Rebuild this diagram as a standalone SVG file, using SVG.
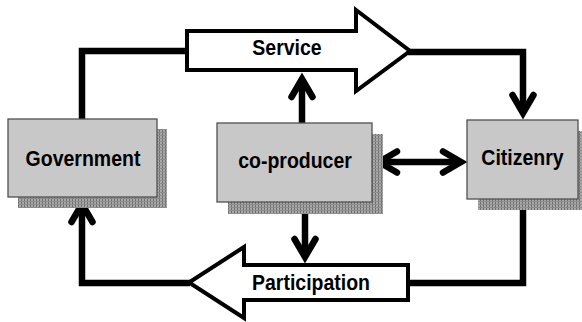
<svg xmlns="http://www.w3.org/2000/svg" width="582" height="322" viewBox="0 0 582 322">
  <defs>
    <!-- fine hatched fill used for the drop shadows -->
    <pattern id="hatch" width="3" height="3" patternUnits="userSpaceOnUse">
      <rect width="3" height="3" fill="#a8a8a8"/>
      <rect x="0" y="0" width="1" height="3" fill="#707070"/>
      <rect x="0" y="0" width="3" height="1" fill="#8e8e8e"/>
    </pattern>
    <!-- open V arrowhead -->
    <marker id="vhead" markerUnits="userSpaceOnUse" orient="auto-start-reverse" refX="0" refY="0" markerWidth="30" markerHeight="30" overflow="visible">
      <path d="M-18,-10.5 L0,0 L-18,10.5" fill="none" stroke="#000" stroke-width="6.5" stroke-linecap="round" stroke-linejoin="miter" stroke-miterlimit="10"/>
    </marker>
    <style>
      .shadow { fill: url(#hatch); }
      .box { fill: #c8c8c8; stroke: #505050; stroke-width: 1.3; }
      .label { font-family: "Liberation Sans", Arial, sans-serif; font-weight: bold; font-size: 19.5px; fill: #000; text-anchor: middle; }
      .wire { fill: none; stroke: #000; stroke-width: 6.5; stroke-linejoin: miter; }
      .flow { fill: #fff; stroke: #000; stroke-width: 4; stroke-linejoin: miter; stroke-miterlimit: 10; }
    </style>
  </defs>

  <!-- connectors -->
  <g id="connectors">
    <path class="wire" d="M82,119 V51 H188"/>
    <path class="wire" d="M408,52 H523 V113" marker-end="url(#vhead)"/>
    <path class="wire" d="M523,199 V283 H407"/>
    <path class="wire" d="M190,283 H82 V204" marker-end="url(#vhead)"/>
    <path class="wire" d="M302,123 V79" marker-end="url(#vhead)"/>
    <path class="wire" d="M305,202 V257" marker-end="url(#vhead)"/>
    <path class="wire" d="M379,162 H461" marker-start="url(#vhead)" marker-end="url(#vhead)"/>
  </g>

  <!-- block arrows -->
  <g id="service">
    <polygon class="flow" points="187,31 356,31 356,10 410,51 356,91 356,70 187,70"/>
    <text class="label" transform="translate(287,55) scale(1,1.12)">Service</text>
  </g>
  <g id="participation">
    <polygon class="flow" points="189,282.5 244,247 244,265 408,265 408,300 244,300 244,318"/>
    <text class="label" transform="translate(311,290) scale(1,1.12)">Participation</text>
  </g>

  <!-- nodes -->
  <g id="government">
    <rect class="shadow" x="18" y="129" width="149" height="79"/>
    <rect class="box" x="8" y="119" width="149" height="78"/>
    <text class="label" transform="translate(83,165.5) scale(1,1.12)">Government</text>
  </g>
  <g id="co-producer">
    <rect class="shadow" x="228" y="134" width="155" height="80"/>
    <rect class="box" x="217" y="123" width="155" height="79"/>
    <text class="label" transform="translate(295,168) scale(1,1.12)">co-producer</text>
  </g>
  <g id="citizenry">
    <rect class="shadow" x="478" y="131" width="112" height="79"/>
    <rect class="box" x="467" y="120" width="111" height="79"/>
    <text class="label" transform="translate(522.5,165) scale(1,1.12)">Citizenry</text>
  </g>
</svg>
